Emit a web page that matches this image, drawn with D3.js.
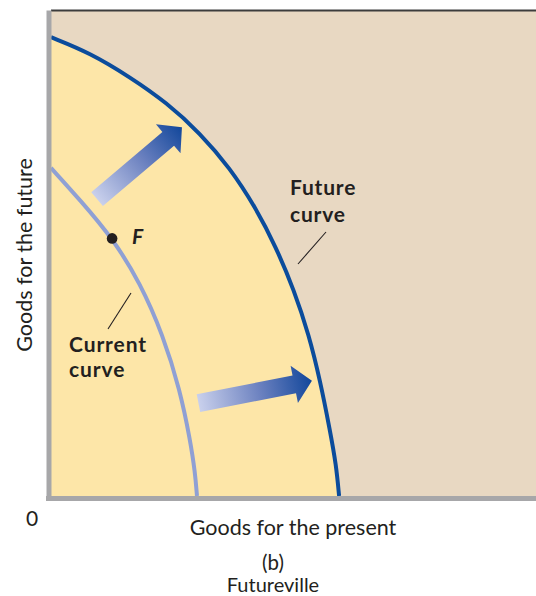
<!DOCTYPE html>
<html>
<head>
<meta charset="utf-8">
<script src="https://cdn.jsdelivr.net/npm/d3@7"></script>
<style>
  body { margin: 0; background: #fff; }
  text { font-family: Lato, "Open Sans", sans-serif; fill: #231f20; }
</style>
</head>
<body>
<script>
// goods for the present (x) vs goods for the future (y), 0-100 units
const futureCurve = [[0, 94.4], [8.0, 91.2], [16.3, 86.2], [23.9, 80.9], [30.7, 74.7], [36.9, 67.5],
    [42.1, 59.5], [46.4, 51.2], [50.1, 42.4], [53.2, 33.1], [55.5, 23.7], [57.5, 13.6], [58.8, 6.4], [59.4, 0]];
const currentCurve = [[0, 67.5], [6.0, 60.9], [12.8, 52.9], [18.4, 43.8], [23.1, 33.1], [26.6, 21.8],
    [28.7, 11.5], [29.7, 4.9], [30.1, 0]];
const pointF = [12.6, 53.0];
// outward shift of the curve
const shiftArrows = [
    { from: [9.5, 61.1], to: [27.0, 75.9] },
    { from: [30.4, 19.1], to: [53.8, 23.7] }
];
const futureLabel = ["Future", "curve"];
const currentLabel = ["Current", "curve"];
const xTitle = "Goods for the present";
const yTitle = "Goods for the future";
const captions = ["(b)", "Futureville"];

function main() {

    const canvasWidth = 536;
    const canvasHeight = 596;

    const svg = d3.select("body").append("svg")
        .attr("width", canvasWidth)
        .attr("height", canvasHeight);

    const x = d3.scaleLinear().domain([0, 100]).range([51, 536]);
    const y = d3.scaleLinear().domain([0, 100]).range([496, 10]);

    // beige plot background
    svg.append("rect")
        .attr("x", x(0))
        .attr("y", y(100))
        .attr("width", x(100) - x(0))
        .attr("height", y(0) - y(100))
        .attr("fill", "#e8d8c2");

    const line = d3.line()
        .x(d => x(d[0]))
        .y(d => y(d[1]))
        .curve(d3.curveBasis);

    const area = d3.area()
        .x(d => x(d[0]))
        .y0(y(0))
        .y1(d => y(d[1]))
        .curve(d3.curveBasis);

    // yellow region under the future curve
    svg.append("path")
        .datum(futureCurve)
        .attr("d", area)
        .attr("fill", "#fde6a8");

    // top border
    svg.append("line")
        .attr("x1", x(0)).attr("x2", x(100))
        .attr("y1", y(100) + 0.5).attr("y2", y(100) + 0.5)
        .attr("stroke", "#3c3c3c")
        .attr("stroke-width", 2);

    // arrows
    const defs = svg.append("defs");
    shiftArrows.forEach((a, i) => {
        const p0 = [x(a.from[0]), y(a.from[1])];
        const p1 = [x(a.to[0]), y(a.to[1])];
        const grad = defs.append("linearGradient")
            .attr("id", "grad" + i)
            .attr("gradientUnits", "userSpaceOnUse")
            .attr("x1", p0[0]).attr("y1", p0[1])
            .attr("x2", p1[0]).attr("y2", p1[1]);
        grad.append("stop").attr("offset", 0).attr("stop-color", "#c9d0ec");
        grad.append("stop").attr("offset", 0.55).attr("stop-color", "#6a80bf");
        grad.append("stop").attr("offset", 1).attr("stop-color", "#12479b");

        const sw = 18, hw = 38, hl = 18;
        const dx = p1[0] - p0[0], dy = p1[1] - p0[1], L = Math.hypot(dx, dy);
        const ux = dx / L, uy = dy / L, nx = -uy, ny = ux;
        const bx = p1[0] - ux * hl, by = p1[1] - uy * hl;
        const pts = [
            [p0[0] + nx * sw / 2, p0[1] + ny * sw / 2],
            [bx + nx * sw / 2, by + ny * sw / 2],
            [bx + nx * hw / 2, by + ny * hw / 2],
            p1,
            [bx - nx * hw / 2, by - ny * hw / 2],
            [bx - nx * sw / 2, by - ny * sw / 2],
            [p0[0] - nx * sw / 2, p0[1] - ny * sw / 2]
        ];
        svg.append("path")
            .attr("d", d3.line().curve(d3.curveLinearClosed)(pts))
            .attr("fill", "url(#grad" + i + ")");
    });

    // curves
    svg.append("path")
        .datum(currentCurve)
        .attr("d", line)
        .attr("fill", "none")
        .attr("stroke", "#8fa0d4")
        .attr("stroke-width", 4);

    svg.append("path")
        .datum(futureCurve)
        .attr("d", line)
        .attr("fill", "none")
        .attr("stroke", "#0b4c9c")
        .attr("stroke-width", 4);

    // axes (no ticks)
    const xAxis = svg.append("g")
        .attr("transform", "translate(0," + (y(0) + 2.5) + ")")
        .call(d3.axisBottom(x).tickValues([]).tickSizeOuter(0));
    xAxis.select(".domain")
        .attr("d", "M" + (x(0) - 5) + ",0H" + x(100))
        .attr("stroke", "#a7a7a9")
        .attr("stroke-width", 5);

    const yAxis = svg.append("g")
        .attr("transform", "translate(" + (x(0) - 2.5) + ",0)")
        .call(d3.axisLeft(y).tickValues([]).tickSizeOuter(0));
    yAxis.select(".domain")
        .attr("stroke", "#a7a7a9")
        .attr("stroke-width", 5);

    // point F
    svg.append("circle")
        .attr("cx", x(pointF[0]))
        .attr("cy", y(pointF[1]))
        .attr("r", 5.3)
        .attr("fill", "#231f20");
    svg.append("text")
        .attr("x", x(pointF[0]) + 20)
        .attr("y", y(pointF[1]) + 6)
        .attr("font-size", "21px")
        .attr("font-weight", 700)
        .attr("font-style", "italic")
        .text("F");

    // curve labels + leader lines
    svg.append("line")
        .attr("x1", 326).attr("y1", 232).attr("x2", 298).attr("y2", 264)
        .attr("stroke", "#231f20").attr("stroke-width", 1.1);
    svg.append("line")
        .attr("x1", 131).attr("y1", 293).attr("x2", 108).attr("y2", 329)
        .attr("stroke", "#231f20").attr("stroke-width", 1.1);

    svg.selectAll(".flabel")
        .data(futureLabel)
        .join("text")
        .attr("class", "flabel")
        .attr("x", 290)
        .attr("y", (d, i) => 195 + i * 27)
        .attr("font-size", "21px")
        .attr("font-weight", 700)
        .attr("letter-spacing", "0.8px")
        .text(d => d);

    svg.selectAll(".clabel")
        .data(currentLabel)
        .join("text")
        .attr("class", "clabel")
        .attr("x", 69)
        .attr("y", (d, i) => 352 + i * 25)
        .attr("font-size", "21px")
        .attr("font-weight", 700)
        .attr("letter-spacing", "0.9px")
        .text(d => d);

    // axis titles and captions
    svg.append("text")
        .attr("transform", "translate(32,255) rotate(-90)")
        .attr("text-anchor", "middle")
        .attr("font-size", "21.5px")
        .text(yTitle);

    svg.append("text")
        .attr("x", 32).attr("y", 526)
        .attr("text-anchor", "middle")
        .attr("font-size", "21px")
        .text("0");

    svg.append("text")
        .attr("x", 293).attr("y", 535)
        .attr("text-anchor", "middle")
        .attr("font-size", "21.5px")
        .text(xTitle);

    svg.append("text")
        .attr("x", 273).attr("y", 570)
        .attr("text-anchor", "middle")
        .attr("font-size", "20.5px")
        .text(captions[0]);

    svg.append("text")
        .attr("x", 273).attr("y", 592)
        .attr("text-anchor", "middle")
        .attr("font-size", "20px")
        .text(captions[1]);
}
main();
</script>
</body>
</html>
